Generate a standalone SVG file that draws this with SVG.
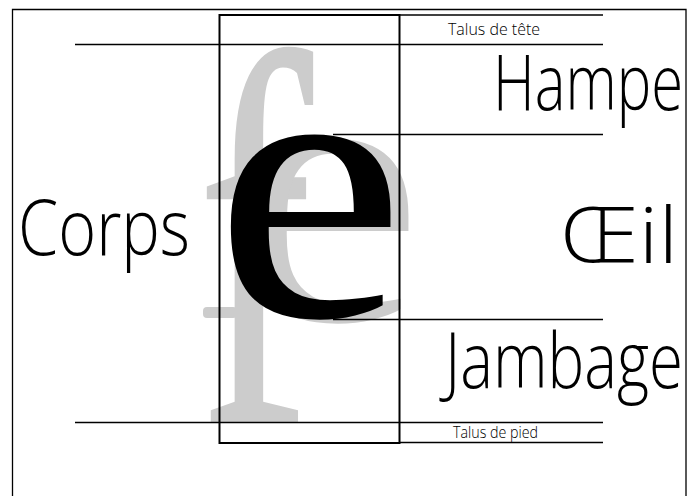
<svg xmlns="http://www.w3.org/2000/svg" width="696" height="496" viewBox="0 0 696 496">
<style>
.ln{stroke:#000;stroke-width:1.3;fill:none}
.big{font-family:"Open Sans","Lato","DejaVu Sans",sans-serif;font-weight:300;font-size:78px;fill:#000}
.small{font-family:"Open Sans","Lato","DejaVu Sans",sans-serif;font-weight:300;font-size:17px;fill:#000}
.glyph{font-family:"Liberation Serif","Times New Roman",serif}
</style>
<rect width="696" height="496" fill="#fff"/>
<g id="frame">
<path class="ln" d="M12.5,500 V9.5 H686 V500"/>
</g>
<g id="letters">
<text class="glyph" x="0" y="0" font-size="533" fill="#ccc" transform="translate(196,422) scale(0.66,1)">f</text>
<rect x="203" y="307" width="34" height="11" rx="4" fill="#ccc"/>
<text class="glyph" x="0" y="0" font-size="385" fill="#ccc" transform="translate(232,320) scale(1.12,1)">e</text>
<text class="glyph" x="0" y="0" font-size="385" fill="#000" transform="translate(214,316) scale(1.12,1)">e</text>
</g>
<g id="connectors">
<rect x="219.5" y="15" width="180" height="428" fill="none" stroke="#000" stroke-width="2"/>
<line class="ln" x1="399" y1="15" x2="603" y2="15"/>
<line class="ln" x1="75" y1="44.5" x2="603" y2="44.5"/>
<line class="ln" x1="333" y1="134.5" x2="603" y2="134.5"/>
<line class="ln" x1="333" y1="319.5" x2="603" y2="319.5"/>
<line class="ln" x1="75" y1="422.5" x2="603" y2="422.5"/>
<line class="ln" x1="399" y1="442.5" x2="603" y2="442.5"/>
</g>
<g id="label-talus-tete"><text class="small" x="448" y="35" textLength="92" lengthAdjust="spacingAndGlyphs">Talus de tête</text></g>
<g id="label-hampe"><text class="big" x="493" y="110" textLength="190" lengthAdjust="spacingAndGlyphs">Hampe</text></g>
<g id="label-corps"><text class="big" x="18" y="255" textLength="172" lengthAdjust="spacingAndGlyphs">Corps</text></g>
<g id="label-oeil"><text class="big" x="560" y="263" textLength="118" lengthAdjust="spacingAndGlyphs">Œil</text></g>
<g id="label-jambage"><text class="big" x="445" y="388" textLength="238" lengthAdjust="spacingAndGlyphs">Jambage</text></g>
<g id="label-talus-pied"><text class="small" x="453" y="438" textLength="85" lengthAdjust="spacingAndGlyphs">Talus de pied</text></g>
</svg>
